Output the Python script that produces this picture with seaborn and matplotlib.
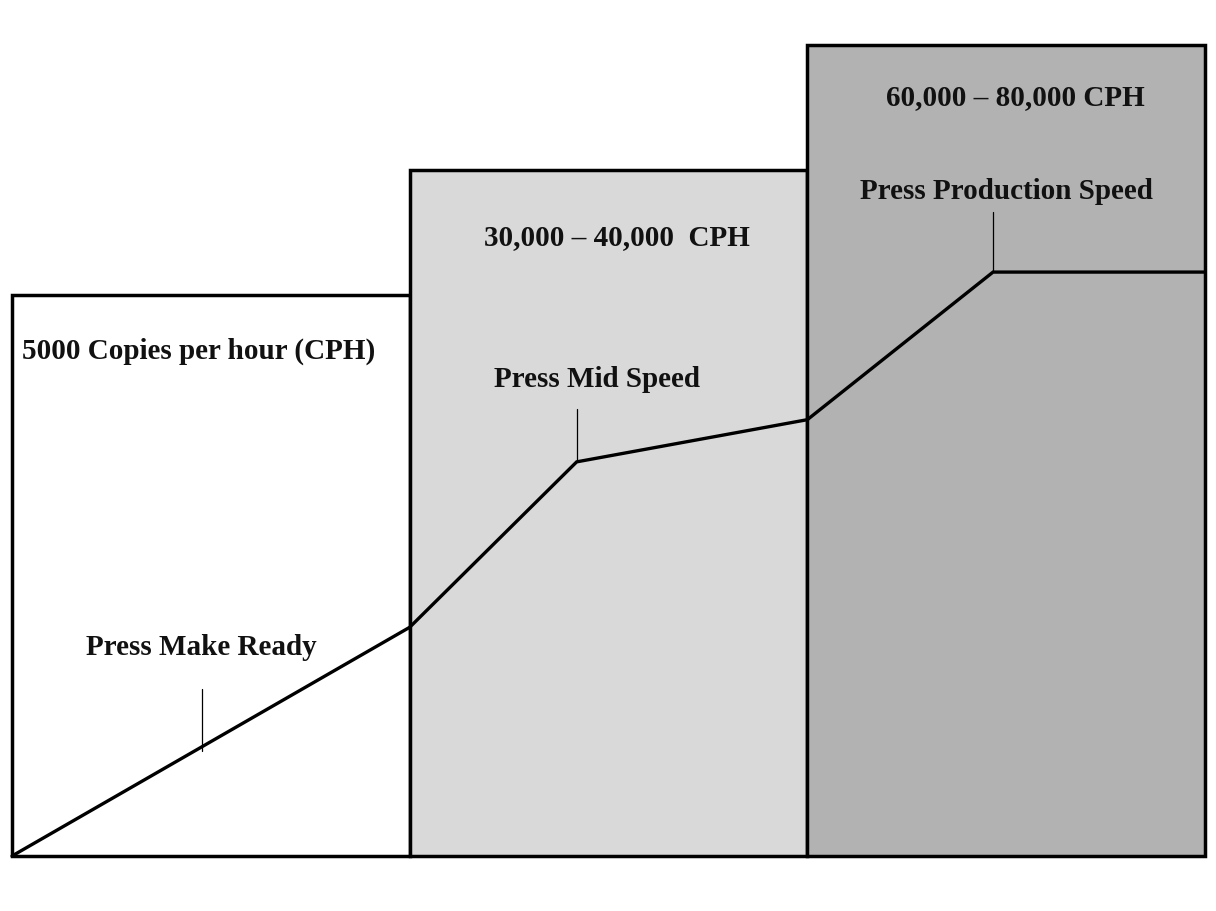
import matplotlib
matplotlib.use("Agg")
import matplotlib.pyplot as plt
import seaborn as sns
import pandas as pd

# Data
stages = ["Make Ready", "Mid Speed", "Production Speed"]
stage_heights = [69.2, 84.6, 100.0]
stage_colors = ["#ffffff", "#d9d9d9", "#b2b2b2"]
stage_labels = ["5000 Copies per hour (CPH)", "30,000 \u2013 40,000  CPH", "60,000 \u2013 80,000 CPH"]

curve_x = [-0.5, 0.5, 0.92, 1.5, 1.967, 2.5]
curve_y = [0.0, 28.2, 48.6, 53.8, 72.0, 72.0]

callout_names = ["Press Make Ready", "Press Mid Speed", "Press Production Speed"]
callout_x = [-0.022, 0.92, 1.967]
callout_y0 = [12.9, 48.6, 72.0]
callout_y1 = [20.6, 55.1, 79.4]
callout_text_x = [-0.025, 0.97, 2.0]
callout_text_y = [25.8, 58.9, 82.0]

label_x = [-0.03, 1.021, 2.022]
label_y = [62.3, 76.4, 93.6]

sns.set_theme(style="white")
plt.rcParams["font.family"] = ["Liberation Serif", "DejaVu Serif"]

fig = plt.figure(figsize=(12.16, 9.12), dpi=100)
ax = fig.add_axes([12/1216, 55/912, 1193/1216, 811/912])

df = pd.DataFrame({"stage": stages, "height": stage_heights})
sns.barplot(data=df, x="stage", y="height", hue="stage", palette=stage_colors,
            width=1.0, edgecolor="black", linewidth=2.5, legend=False, ax=ax,
            saturation=1)
for p in ax.patches:
    p.set_clip_on(False)

ax.plot(curve_x, curve_y, color="black", lw=2.4, solid_joinstyle="miter", zorder=5, clip_on=False)

for xx, a, b in zip(callout_x, callout_y0, callout_y1):
    ax.plot([xx, xx], [a, b], color="black", lw=0.9, zorder=4)

for name, tx, ty in zip(callout_names, callout_text_x, callout_text_y):
    ax.text(tx, ty, name, ha="center", va="center", fontsize=21, fontweight="bold", color="#111111")

for lab, tx, ty in zip(stage_labels, label_x, label_y):
    ax.text(tx, ty, lab, ha="center", va="center", fontsize=21, fontweight="bold", color="#111111")

ax.set_xlim(-0.5, 2.5)
ax.set_ylim(0, 100)
ax.axis("off")

fig.savefig("out.png", dpi=100, facecolor="white")
